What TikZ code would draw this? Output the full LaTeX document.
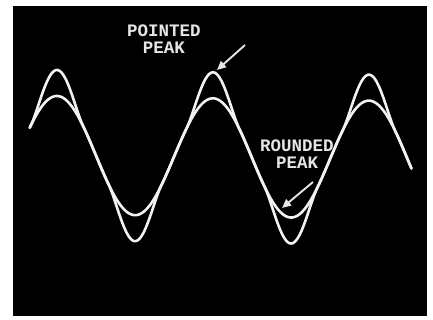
\documentclass[tikz,border=0pt]{standalone}
\usepackage{fontspec}
\setmonofont{Liberation Mono}
\usetikzlibrary{arrows.meta, positioning}
\definecolor{phosphor}{gray}{0.95} % colour of the traces on the screen
\definecolor{lettering}{gray}{0.90} % colour of the printed labels
\tikzset{
  trace/.style={phosphor, line width=2.6pt, line join=round,
    line cap=round}, % one trace on the scope screen
  tag/.style={lettering, align=center, inner sep=0pt,
    font=\ttfamily\bfseries\fontsize{17.5}{17}\selectfont}, % the labels
  pointer/.style={-{Triangle[length=9pt,width=8pt]}, lettering,
    line width=1.9pt}, % the small white arrows
  % 1 unit = 1 pixel of the picture, y going down
  declare function={
    sx(\t)=57+(\t-90)/360*156;
    mid(\t)=155+0.015*(\t-90)/360*156;
    bump(\t)=(max(abs(sin(\t))-0.5,0.0001)/0.5)^1.8*sin(\t)/(abs(sin(\t))+0.0001);
  },
}

\begin{document}
\begin{tikzpicture}[x=1pt, y=-1pt]
    \useasboundingbox (0,0) rectangle (433,320);
    \fill[white] (0,0) rectangle (433,320);
    \fill[black] (13,6) rectangle (427,316);

    % rounded trace
    \draw[trace] plot[domain=27:908, samples=400, variable=\t]
    ({sx(\t)}, {mid(\t)-59*sin(\t)});
    % pointed trace
    \draw[trace] plot[domain=27:908, samples=400, variable=\t]
    ({sx(\t)}, {mid(\t)-59*sin(\t)-26*bump(\t)});

    \node[tag] (pointed) at (164,39.5) {POINTED\\PEAK};
    \node[tag] (rounded) at (297,154.5) {ROUNDED\\PEAK};

    \coordinate (pointedtail) at (245,45);
    \coordinate (pointedtip) at (217,70);
    \coordinate (roundedtail) at (313,182);
    \coordinate (roundedtip) at (282,208);

    \draw[pointer] (pointedtail) -- (pointedtip);
    \draw[pointer] (roundedtail) -- (roundedtip);
  \end{tikzpicture}
\end{document}
